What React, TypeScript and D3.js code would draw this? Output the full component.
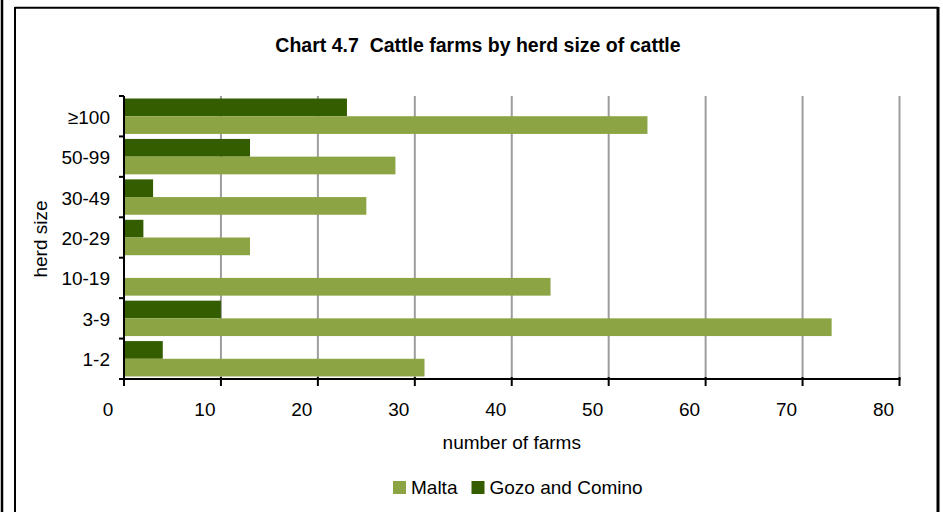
import React, { useRef, useEffect } from 'react';
import * as d3 from 'd3';

// Chart 4.7 — cattle farms by herd size, Malta vs Gozo and Comino.

const herdSizes = ['≥100', '50-99', '30-49', '20-29', '10-19', '3-9', '1-2'];
const malta = [54, 28, 25, 13, 44, 73, 31];
const gozo = [23, 13, 3, 2, 0, 10, 4];
const xTicks = [0, 10, 20, 30, 40, 50, 60, 70, 80];

const LIGHT = '#8CA443';
const DARK = '#345D00';
const FONT = 'Arial, "Liberation Sans", sans-serif';

export default function App() {
  const svgRef = useRef<SVGSVGElement>(null);

  useEffect(() => {
    const svg = d3.select(svgRef.current);
    svg.selectAll('*').remove();

    const width = 943;
    const height = 512;
    const left = 124;
    const right = 899.5;
    const top = 96;
    const bottom = 379;

    svg.append('rect').attr('width', width).attr('height', height).attr('fill', 'white');

    // outer frames
    svg.append('line').attr('x1', 2).attr('x2', 2).attr('y1', 0).attr('y2', height)
      .attr('stroke', 'black').attr('stroke-width', 2.5);
    svg.append('line').attr('x1', 15).attr('x2', 15).attr('y1', 7).attr('y2', height)
      .attr('stroke', 'black').attr('stroke-width', 2);
    svg.append('line').attr('x1', 15).attr('x2', 938).attr('y1', 7.7).attr('y2', 7.7)
      .attr('stroke', 'black').attr('stroke-width', 2);
    svg.append('line').attr('x1', 938).attr('x2', 938).attr('y1', 7).attr('y2', height)
      .attr('stroke', 'black').attr('stroke-width', 3);

    const x = d3.scaleLinear().domain([0, 80]).range([left, right]);
    const y = d3.scaleBand<string>().domain(herdSizes).range([top, bottom])
      .paddingInner(0.124).paddingOuter(0.062);
    const inner = d3.scaleBand<string>().domain(['gozo', 'malta']).range([0, y.bandwidth()]);

    // gridlines
    for (const t of xTicks.slice(1)) {
      svg.append('line').attr('x1', x(t)).attr('x2', x(t)).attr('y1', top).attr('y2', bottom)
        .attr('stroke', '#9d9d9d').attr('stroke-width', 2);
    }

    // bars
    const g = svg.append('g');
    herdSizes.forEach((h, i) => {
      const y0 = y(h) as number;
      g.append('rect').attr('x', x(0)).attr('y', y0 + (inner('gozo') as number))
        .attr('width', x(gozo[i]) - x(0)).attr('height', inner.bandwidth()).attr('fill', DARK);
      g.append('rect').attr('x', x(0)).attr('y', y0 + (inner('malta') as number))
        .attr('width', x(malta[i]) - x(0)).attr('height', inner.bandwidth()).attr('fill', LIGHT);
    });

    // axes
    svg.append('line').attr('x1', left).attr('x2', left).attr('y1', top).attr('y2', bottom + 1)
      .attr('stroke', 'black').attr('stroke-width', 2);
    svg.append('line').attr('x1', left - 1).attr('x2', right + 1).attr('y1', bottom).attr('y2', bottom)
      .attr('stroke', 'black').attr('stroke-width', 2);

    const step = (bottom - top) / herdSizes.length;
    for (let i = 0; i <= herdSizes.length; i++) {
      const yy = top + i * step;
      svg.append('line').attr('x1', left - 5).attr('x2', left).attr('y1', yy).attr('y2', yy)
        .attr('stroke', 'black').attr('stroke-width', 2);
    }
    for (const t of xTicks) {
      svg.append('line').attr('x1', x(t)).attr('x2', x(t)).attr('y1', bottom - 2).attr('y2', bottom + 7)
        .attr('stroke', 'black').attr('stroke-width', 2);
      svg.append('text').attr('x', x(t) - 16).attr('y', 416)
        .attr('text-anchor', 'middle').attr('font-family', FONT).attr('font-size', 19)
        .attr('fill', 'black').text(t);
    }

    herdSizes.forEach((h) => {
      const c = (y(h) as number) + y.bandwidth() / 2;
      svg.append('text').attr('x', 110).attr('y', c + 7.5)
        .attr('text-anchor', 'end').attr('font-family', FONT).attr('font-size', 19)
        .attr('fill', 'black').text(h);
    });

    // titles
    svg.append('text').attr('x', 478).attr('y', 52).attr('text-anchor', 'middle')
      .attr('font-family', FONT).attr('font-size', 19.5).attr('font-weight', 'bold')
      .style('white-space', 'pre').attr('fill', 'black')
      .text('Chart 4.7  Cattle farms by herd size of cattle');

    svg.append('text').attr('x', (left + right) / 2).attr('y', 449).attr('text-anchor', 'middle')
      .attr('font-family', FONT).attr('font-size', 19).attr('fill', 'black')
      .text('number of farms');

    svg.append('text').attr('transform', `translate(47,239) rotate(-90)`).attr('text-anchor', 'middle')
      .attr('font-family', FONT).attr('font-size', 19).attr('fill', 'black')
      .text('herd size');

    // legend
    const legend = [
      { label: 'Malta', color: LIGHT, x: 393 },
      { label: 'Gozo and Comino', color: DARK, x: 471.5 },
    ];
    for (const l of legend) {
      svg.append('rect').attr('x', l.x).attr('y', 481).attr('width', 13).attr('height', 13)
        .attr('fill', l.color);
      svg.append('text').attr('x', l.x + 18).attr('y', 494)
        .attr('font-family', FONT).attr('font-size', 19).attr('fill', 'black').text(l.label);
    }
  }, []);

  return (
    <svg
      ref={svgRef}
      width={943}
      height={512}
      style={{ position: 'absolute', left: 0, top: 0, display: 'block' }}
    />
  );
}
